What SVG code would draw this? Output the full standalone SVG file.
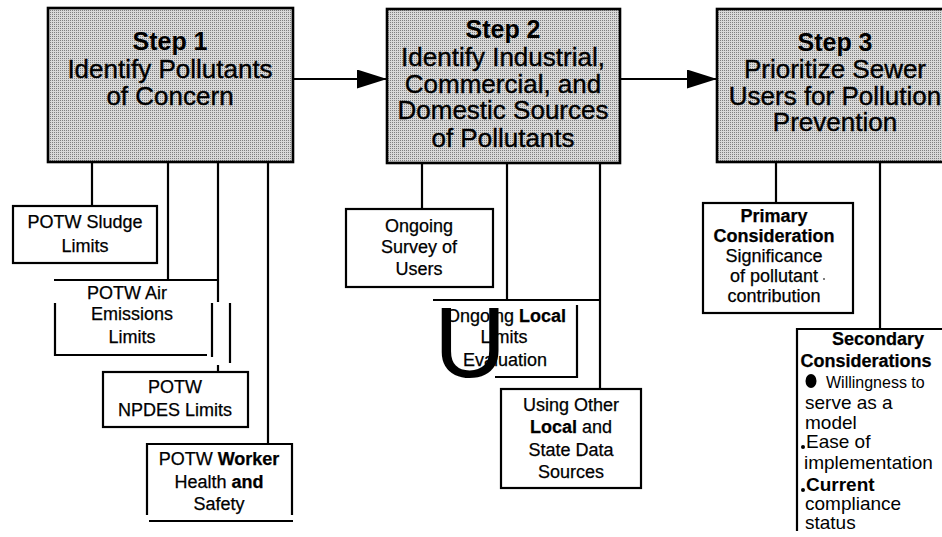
<svg xmlns="http://www.w3.org/2000/svg" width="942" height="537" viewBox="0 0 942 537">
<defs>
<pattern id="ht" width="2" height="2" patternUnits="userSpaceOnUse">
<rect width="2" height="2" fill="#d9d9d9"/>
<rect width="1" height="1" fill="#808080"/>
</pattern>
<marker id="ah" markerUnits="userSpaceOnUse" markerWidth="30" markerHeight="20" refX="30" refY="9.5" orient="auto">
<path d="M0,0 L30,9.5 L0,19 z" fill="#000"/>
</marker>
</defs>
<style>
.step{fill:url(#ht);stroke:#000;stroke-width:2.6}
.box{fill:#fff;stroke:#000;stroke-width:2.2}
.ln{stroke:#000;stroke-width:2.2;fill:none}
text{font-family:"Liberation Sans",Arial,Helvetica,sans-serif;fill:#000}
.st{font-size:25px;font-weight:bold;text-anchor:middle}
.sl{font-size:26px;text-anchor:middle;stroke:#000;stroke-width:0.4}
.m{font-size:18px;text-anchor:middle;stroke:#000;stroke-width:0.25}
.b{font-weight:bold}
.s{font-size:19px}
</style>
<rect width="942" height="537" fill="#fff"/>

<g id="connectors">
<line class="ln" x1="293" y1="79" x2="387" y2="79" marker-end="url(#ah)"/>
<line class="ln" x1="620" y1="79" x2="717" y2="79" marker-end="url(#ah)"/>
<line class="ln" x1="92" y1="162" x2="92" y2="206"/>
<line class="ln" x1="168" y1="162" x2="168" y2="280"/>
<line class="ln" x1="54" y1="280" x2="218" y2="280"/>
<line class="ln" x1="218" y1="162" x2="218" y2="302"/>
<line class="ln" x1="268" y1="162" x2="268" y2="444"/>
<line class="ln" x1="218" y1="365" x2="218" y2="372"/>
<line class="ln" x1="422" y1="163" x2="422" y2="209"/>
<line class="ln" x1="507" y1="163" x2="507" y2="300"/>
<line class="ln" x1="433" y1="300" x2="600" y2="300"/>
<line class="ln" x1="600" y1="163" x2="600" y2="389"/>
<line class="ln" x1="776" y1="162" x2="776" y2="203"/>
<line class="ln" x1="880" y1="162" x2="880" y2="329"/>
</g>

<g id="step1">
<rect class="step" x="48" y="8" width="245" height="154"/>
<text class="st" x="170" y="50">Step 1</text>
<text class="sl" x="170" y="78">Identify Pollutants</text>
<text class="sl" x="170" y="105">of Concern</text>
</g>

<g id="step2">
<rect class="step" x="387" y="9" width="233" height="154"/>
<text class="st" x="503" y="38">Step 2</text>
<text class="sl" x="503" y="66">Identify Industrial,</text>
<text class="sl" x="503" y="93">Commercial, and</text>
<text class="sl" x="503" y="119">Domestic Sources</text>
<text class="sl" x="503" y="147">of Pollutants</text>
</g>

<g id="step3">
<rect class="step" x="717" y="9" width="232" height="153"/>
<text class="st" x="835" y="51">Step 3</text>
<text class="sl" x="835" y="78">Prioritize Sewer</text>
<text class="sl" x="835" y="105">Users for Pollution</text>
<text class="sl" x="835" y="131">Prevention</text>
</g>

<g id="sludge">
<rect class="box" x="13" y="206" width="144" height="57"/>
<text class="m" x="85" y="228">POTW Sludge</text>
<text class="m" x="85" y="252">Limits</text>
</g>

<g id="air">
<path class="ln" d="M55,303 V355 H207 M212,303 V357 M230,303 V363"/>
<text class="m" x="127" y="299" fill="#333" stroke="none">POTW Air</text>
<text class="m" x="132" y="320">Emissions</text>
<text class="m" x="132" y="343">Limits</text>
</g>

<g id="npdes">
<rect class="box" x="103" y="372" width="145" height="55"/>
<text class="m" x="175" y="393">POTW</text>
<text class="m" x="175" y="416">NPDES Limits</text>
</g>

<g id="worker">
<path class="ln" d="M147,515 V444 H292 V515 M149,521 H293"/>
<text class="m" x="219" y="465">POTW <tspan class="b">Worker</tspan></text>
<text class="m" x="219" y="488">Health <tspan class="b">and</tspan></text>
<text class="m" x="219" y="510">Safety</text>
</g>

<g id="survey">
<rect class="box" x="346" y="209" width="147" height="78"/>
<text class="m" x="419" y="232">Ongoing</text>
<text class="m" x="419" y="253">Survey of</text>
<text class="m" x="419" y="275">Users</text>
</g>

<g id="local">
<path class="ln" d="M577,305 V377 H495"/>
<text class="m" x="506" y="322">Ongoing <tspan class="b">Local</tspan></text>
<text class="m" x="504" y="343">Limits</text>
<text class="m" x="505" y="366">Evaluation</text>
<text x="434" y="377" font-size="100">U</text>
</g>

<g id="other">
<rect class="box" x="501" y="389" width="140" height="99"/>
<text class="m" x="571" y="411">Using Other</text>
<text class="m" x="571" y="433"><tspan class="b">Local</tspan> and</text>
<text class="m" x="571" y="456">State Data</text>
<text class="m" x="571" y="478">Sources</text>
</g>

<g id="primary">
<rect class="box" x="703" y="203" width="150" height="110"/>
<text class="m b" x="774" y="222">Primary</text>
<text class="m b" x="774" y="242">Consideration</text>
<text class="m" x="774" y="262">Significance</text>
<text class="m" x="774" y="282">of pollutant</text>
<text class="m" x="774" y="302">contribution</text>
<circle cx="824" cy="279" r="1" fill="#555"/>
</g>

<g id="secondary">
<path class="ln" d="M945,329 H797 V531"/>
<text class="m b" x="878" y="345">Secondary</text>
<text class="m b" x="866" y="367">Considerations</text>
<ellipse cx="811" cy="381" rx="5.5" ry="7" fill="#000"/>
<text x="826" y="388" font-size="16">Willingness  to</text>
<text class="s" x="805" y="409">serve as a</text>
<text class="s" x="805" y="429">model</text>
<circle cx="803" cy="447" r="2" fill="#000"/>
<text class="s" x="806" y="448">Ease of</text>
<text class="s" x="804" y="469">implementation</text>
<circle cx="803" cy="490" r="2" fill="#000"/>
<text class="s b" x="806" y="491">Current</text>
<text class="s" x="805" y="510">compliance</text>
<text class="s" x="805" y="529">status</text>
</g>
</svg>
